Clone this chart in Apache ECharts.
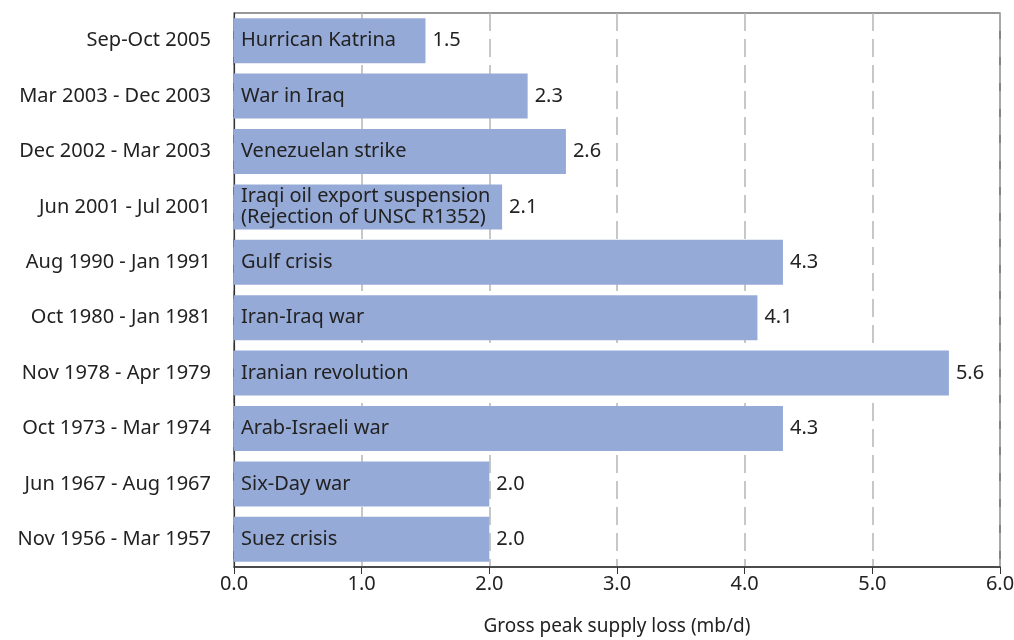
<!DOCTYPE html>
<html>
<head>
<meta charset="utf-8">
<script src="https://cdn.jsdelivr.net/npm/echarts@6/dist/echarts.min.js"></script>
<style>
    html, body { margin: 0; padding: 0; background: #fff; }
    #supply-loss-bar-chart { width: 1014px; height: 640px; }
</style>
</head>
<body>
<div id="supply-loss-bar-chart"></div>
<script>
// periods, top to bottom
var periods = ['Sep-Oct 2005', 'Mar 2003 - Dec 2003', 'Dec 2002 - Mar 2003', 'Jun 2001 - Jul 2001',
    'Aug 1990 - Jan 1991', 'Oct 1980 - Jan 1981', 'Nov 1978 - Apr 1979', 'Oct 1973 - Mar 1974',
    'Jun 1967 - Aug 1967', 'Nov 1956 - Mar 1957'];
var events = ['Hurrican Katrina', 'War in Iraq', 'Venezuelan strike',
    'Iraqi oil export suspension\n(Rejection of UNSC R1352)', 'Gulf crisis', 'Iran-Iraq war',
    'Iranian revolution', 'Arab-Israeli war', 'Six-Day war', 'Suez crisis'];
var supplyLoss = [1.5, 2.3, 2.6, 2.1, 4.3, 4.1, 5.6, 4.3, 2.0, 2.0];

var fontFamily = 'Noto Sans';
var fontSize = 20;
var textColor = '#222';

var myChart = echarts.init(document.getElementById('supply-loss-bar-chart'));
myChart.setOption({
    animation: false,
    textStyle: { fontFamily: fontFamily },
    grid: {
        left: 234,
        right: 14,
        top: 13,
        bottom: 73,
        outerBoundsMode: 'none',
        show: true,
        borderColor: '#333',
        borderWidth: 1.2
    },
    xAxis: {
        type: 'value',
        min: 0,
        max: 6,
        interval: 1,
        name: 'Gross peak supply loss (mb/d)',
        nameLocation: 'middle',
        nameGap: 50,
        nameTextStyle: { fontSize: 19, color: textColor, fontFamily: fontFamily },
        axisLine: { show: true, lineStyle: { color: '#333', width: 1.5 } },
        axisTick: { show: true, length: 7, lineStyle: { color: '#333' } },
        axisLabel: {
            fontSize: fontSize,
            color: textColor,
            margin: 7,
            formatter: function (v) { return v.toFixed(1); }
        },
        splitLine: {
            show: true,
            lineStyle: { color: '#b5b5b5', width: 1.5, type: [18, 8] }
        }
    },
    yAxis: {
        type: 'category',
        inverse: true,
        data: periods,
        axisLine: { show: true, lineStyle: { color: '#333', width: 1.2 } },
        axisTick: { show: false },
        axisLabel: { fontSize: fontSize, color: textColor, margin: 23 }
    },
    series: [
        {
            name: 'Gross peak supply loss',
            type: 'bar',
            data: supplyLoss,
            barWidth: 45,
            itemStyle: { color: '#96aad8' },
            label: {
                show: true,
                position: 'right',
                distance: 7,
                fontSize: fontSize,
                color: textColor,
                formatter: function (p) { return p.value.toFixed(1); }
            },
            z: 2
        },
        {
            // event names drawn inside the bars
            name: 'events',
            type: 'bar',
            data: supplyLoss,
            barWidth: 45,
            barGap: '-100%',
            silent: true,
            itemStyle: { color: 'rgba(0,0,0,0)' },
            label: {
                show: true,
                position: 'insideLeft',
                distance: 7,
                fontSize: fontSize,
                lineHeight: 21,
                color: textColor,
                formatter: function (p) { return events[p.dataIndex]; }
            },
            z: 3
        }
    ]
});
</script>
</body>
</html>
